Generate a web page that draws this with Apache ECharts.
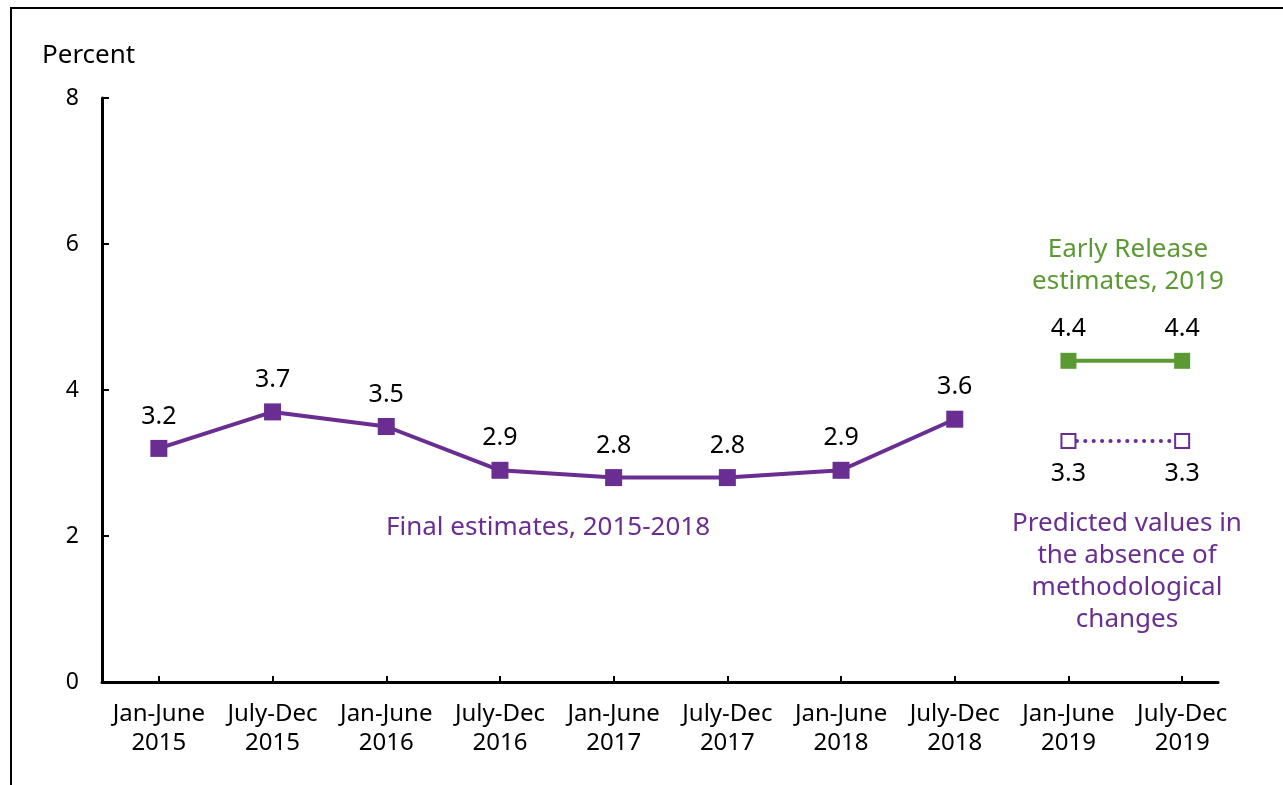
<!DOCTYPE html>
<html><head><meta charset="utf-8">
<script src="https://cdn.jsdelivr.net/npm/echarts@6/dist/echarts.min.js"></script>
<style>html,body{margin:0;padding:0;background:#fff}#c{width:1283px;height:785px}</style>
</head><body><div id="c"></div>
<script>
const categories = ['Jan-June\n2015','July-Dec\n2015','Jan-June\n2016','July-Dec\n2016','Jan-June\n2017','July-Dec\n2017','Jan-June\n2018','July-Dec\n2018','Jan-June\n2019','July-Dec\n2019'];
const finalEstimates = [3.2, 3.7, 3.5, 2.9, 2.8, 2.8, 2.9, 3.6, null, null];
const earlyRelease = [null, null, null, null, null, null, null, null, 4.4, 4.4];
const predicted = [null, null, null, null, null, null, null, null, 3.3, 3.3];
const yTicks = [0, 2, 4, 6, 8];

const PURPLE = '#6A2D91';
const GREEN = '#5B9A33';
const FONT = '"Noto Sans", sans-serif';

const chart = echarts.init(document.getElementById('c'));
chart.setOption({
  animation: false,
  backgroundColor: '#fff',
  grid: [
    {left: 102, top: 98, width: 1137, bottom: 103},
    {left: 102, top: 98, width: 1116, bottom: 103}
  ],
  xAxis: [
    {type: 'category', gridIndex: 0, data: categories, boundaryGap: true,
     axisLine: {show: false},
     axisTick: {show: true, inside: true, length: 6, alignWithLabel: true, lineStyle: {color: '#000', width: 2}},
     axisLabel: {color: '#000', fontFamily: FONT, fontSize: 24, lineHeight: 29, margin: 18, interval: 0}
    },
    {type: 'value', gridIndex: 1, min: 0, max: 1, axisLine: {show: true, onZero: false, lineStyle: {color: '#000', width: 3}},
     axisTick: {show: false}, axisLabel: {show: false}, splitLine: {show: false}}
  ],
  yAxis: [
    {type: 'value', gridIndex: 0, min: yTicks[0], max: yTicks[yTicks.length-1], interval: 2,
     axisLine: {show: true, lineStyle: {color: '#000', width: 3}},
     axisTick: {show: true, inside: true, length: 7, lineStyle: {color: '#000', width: 2}},
     axisLabel: {color: '#000', fontFamily: FONT, fontSize: 23, margin: 23},
     splitLine: {show: false}},
    {type: 'value', gridIndex: 1, min: 0, max: 8, show: false}
  ],
  series: [
    {name: 'Final estimates, 2015-2018', type: 'line', data: finalEstimates,
     symbol: 'rect', symbolSize: 17, lineStyle: {color: PURPLE, width: 4}, itemStyle: {color: PURPLE},
     label: {show: true, position: 'top', distance: 11, color: '#000', fontFamily: FONT, fontSize: 25, formatter: p => p.value.toFixed(1)}},
    {name: 'Early Release estimates, 2019', type: 'line', data: earlyRelease,
     symbol: 'rect', symbolSize: 16, lineStyle: {color: GREEN, width: 4}, itemStyle: {color: GREEN},
     label: {show: true, position: 'top', distance: 11, color: '#000', fontFamily: FONT, fontSize: 25, formatter: p => p.value.toFixed(1)}},
    {name: 'Predicted values', type: 'line', data: predicted,
     symbol: 'rect', symbolSize: 14, lineStyle: {color: PURPLE, width: 4, type: [0.1, 8.3], cap: 'round'},
     itemStyle: {color: '#fff', borderColor: PURPLE, borderWidth: 2},
     label: {show: true, position: 'bottom', distance: 12, color: '#000', fontFamily: FONT, fontSize: 25, formatter: p => p.value.toFixed(1)}}
  ],
  graphic: [
    {type: 'line', shape: {x1: 11, y1: 8, x2: 11, y2: 785}, style: {stroke: '#000', lineWidth: 2}},
    {type: 'line', shape: {x1: 10, y1: 8, x2: 1283, y2: 8}, style: {stroke: '#000', lineWidth: 2}},
    {type: 'text', left: 42, top: 43, style: {text: 'Percent', fill: '#000', font: '26px ' + FONT}},
    {type: 'text', x: 548, y: 528, style: {text: 'Final estimates, 2015-2018', fill: PURPLE, font: '26px ' + FONT, textAlign: 'center', textVerticalAlign: 'middle'}},
    {type: 'text', x: 1128, y: 266, style: {text: 'Early Release\nestimates, 2019', fill: GREEN, font: '26px ' + FONT, lineHeight: 32, textAlign: 'center', textVerticalAlign: 'middle'}},
    {type: 'text', x: 1127, y: 572, style: {text: 'Predicted values in\nthe absence of\nmethodological\nchanges', fill: PURPLE, font: '26px ' + FONT, lineHeight: 32, textAlign: 'center', textVerticalAlign: 'middle'}}
  ]
});
</script></body></html>
